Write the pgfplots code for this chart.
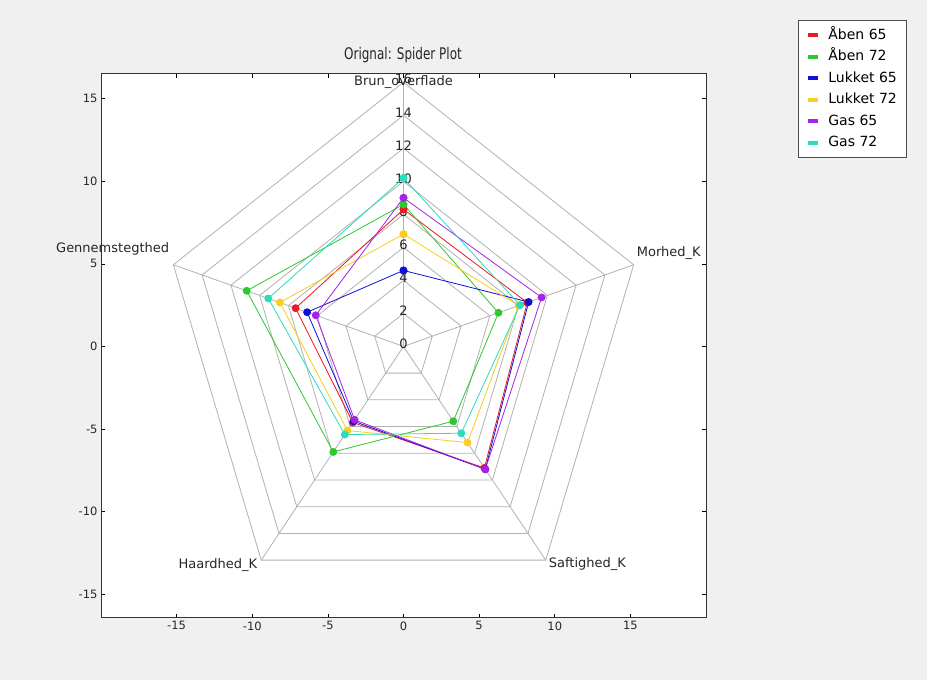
\documentclass[border=0pt]{standalone}
\usepackage{pgfplots}
\pgfplotsset{compat=1.18}
\usepackage{fontspec}
\setmainfont{DejaVu Sans}
\usepackage{graphicx}
\definecolor{figbg}{RGB}{240,240,240}
\definecolor{gridc}{RGB}{178,178,178}
\definecolor{cA}{RGB}{235,25,35}
\definecolor{cB}{RGB}{45,200,45}
\definecolor{cC}{RGB}{15,15,215}
\definecolor{cD}{RGB}{250,205,30}
\definecolor{cE}{RGB}{165,35,230}
\definecolor{cF}{RGB}{45,220,190}
\begin{document}
\begin{tikzpicture}
\useasboundingbox (0pt,0pt) rectangle (927pt,680pt);
\fill[figbg] (0pt,0pt) rectangle (927pt,680pt);
\begin{axis}[
  at={(101pt,62pt)}, anchor=south west, scale only axis,
  width=605pt, height=544pt,
  xmin=-20, xmax=20, ymin=-16.45, ymax=16.5,
  axis background/.style={fill=white},
  xtick={-15,-10,-5,0,5,10,15}, xticklabels={-15,-10,-5,0,5,10,15},
  ytick={-15,-10,-5,0,5,10,15}, yticklabels={-15,-10,-5,0,5,10,15},
  tick align=inside, tick pos=both, major tick length=4pt,
  tick style={black, line width=0.6pt},
  axis line style={black!80, line width=1pt},
  ticklabel style={font=\fontsize{11.5}{13}\selectfont, text=black!85},
  clip=false,
  every mark/.append style={solid},
  legend image code/.code={\draw[#1, line width=4pt, mark=none] (0pt,0pt) -- (10pt,0pt);},
  legend style={at={(1.152,1.099)}, anchor=north west, draw=black!70, line width=0.8pt, fill=white,
    font=\fontsize{14}{16}\selectfont, row sep=4pt, column sep=6pt, inner xsep=8pt, inner ysep=6pt,
    nodes={text height=10.5pt, text depth=3pt}},
  legend cell align=left,
]
% grid rings
\pgfplotsinvokeforeach{2,4,6,8,10,12,14,16}{
  \draw[gridc, line width=0.8pt] (axis cs:{#1*cos(90)},{#1*sin(90)}) -- (axis cs:{#1*cos(18)},{#1*sin(18)})
   -- (axis cs:{#1*cos(-54)},{#1*sin(-54)}) -- (axis cs:{#1*cos(-126)},{#1*sin(-126)})
   -- (axis cs:{#1*cos(162)},{#1*sin(162)}) -- cycle;
}
\pgfplotsinvokeforeach{90,18,-54,-126,162}{
  \draw[gridc, line width=0.8pt] (axis cs:0,0) -- (axis cs:{16*cos(#1)},{16*sin(#1)});
}
\pgfplotsinvokeforeach{0,2,4,6,8,10,12,14,16}{
  \node[font=\fontsize{13}{15}\selectfont, text=black!85, yshift=3pt, inner sep=0pt] at (axis cs:0,#1) {#1};
}
% axis labels
\node[font=\fontsize{13}{15}\selectfont, text=black!85] at (axis cs:0,16) {Brun\_overflade};
\node[font=\fontsize{13}{15}\selectfont, text=black!85, anchor=west, xshift=3pt, yshift=12pt, inner sep=0pt] at (axis cs:15.22,4.94) {Morhed\_K};
\node[font=\fontsize{13}{15}\selectfont, text=black!85, anchor=west, xshift=3pt, yshift=-4pt, inner sep=0pt] at (axis cs:9.40,-12.94) {Saftighed\_K};
\node[font=\fontsize{13}{15}\selectfont, text=black!85, anchor=east, xshift=-4pt, yshift=-5pt, inner sep=0pt] at (axis cs:-9.40,-12.94) {Haardhed\_K};
\node[font=\fontsize{13}{15}\selectfont, text=black!85, anchor=east, xshift=-4pt, yshift=16pt, inner sep=0pt] at (axis cs:-15.22,4.94) {Gennemstegthed};
% data (angle, value): Brun_overflade 90, Morhed_K 18, Saftighed_K -54, Haardhed_K -126, Gennemstegthed 162
\addplot[cA, line width=0.8pt, mark=*, mark size=3.5pt, mark options={fill=cA, draw=cA}, data cs=polar]
  coordinates {(90,8.3) (18,8.6) (-54,9.1) (-126,5.7) (162,7.5) (90,8.3)};
\addlegendentry{Åben 65}
\addplot[cB, line width=0.8pt, mark=*, mark size=3.5pt, mark options={fill=cB, draw=cB}, data cs=polar]
  coordinates {(90,8.6) (18,6.6) (-54,5.6) (-126,7.9) (162,10.9) (90,8.6)};
\addlegendentry{Åben 72}
\addplot[cC, line width=0.8pt, mark=*, mark size=3.5pt, mark options={fill=cC, draw=cC}, data cs=polar]
  coordinates {(90,4.6) (18,8.7) (-54,9.2) (-126,5.6) (162,6.7) (90,4.6)};
\addlegendentry{Lukket 65}
\addplot[cD, line width=0.8pt, mark=*, mark size=3.5pt, mark options={fill=cD, draw=cD}, data cs=polar]
  coordinates {(90,6.8) (18,8.0) (-54,7.2) (-126,6.3) (162,8.6) (90,6.8)};
\addlegendentry{Lukket 72}
\addplot[cE, line width=0.8pt, mark=*, mark size=3.5pt, mark options={fill=cE, draw=cE}, data cs=polar]
  coordinates {(90,9.0) (18,9.6) (-54,9.2) (-126,5.5) (162,6.1) (90,9.0)};
\addlegendentry{Gas 65}
\addplot[cF, line width=0.8pt, mark=*, mark size=3.5pt, mark options={fill=cF, draw=cF}, data cs=polar]
  coordinates {(90,10.2) (18,8.1) (-54,6.5) (-126,6.6) (162,9.4) (90,10.2)};
\addlegendentry{Gas 72}
\end{axis}
\node[text=black!85] at (403pt,625pt) {\scalebox{0.75}[1]{\fontsize{16}{18}\selectfont Orignal: Spider Plot}};
\end{tikzpicture}
\end{document}
